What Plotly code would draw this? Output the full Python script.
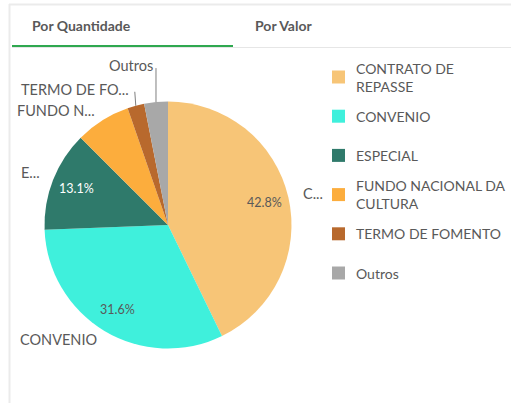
import math
import plotly.graph_objects as go

# ---------------- data ----------------
categories = ["CONTRATO DE REPASSE", "CONVENIO", "ESPECIAL",
              "FUNDO NACIONAL DA CULTURA", "TERMO DE FOMENTO", "Outros"]
shares = [42.8, 31.6, 13.1, 7.2, 2.2, 3.1]
slice_labels = ["C...", "CONVENIO", "E...", "FUNDO N...", "TERMO DE FO...", "Outros"]
legend_labels = ["CONTRATO DE<br>REPASSE", "CONVENIO", "ESPECIAL",
                 "FUNDO NACIONAL DA<br>CULTURA", "TERMO DE FOMENTO", "Outros"]
show_percent = [True, True, True, False, False, False]
tab_labels = ["Por Quantidade", "Por Valor"]

# ---------------- style ----------------
colors = ["#f7c577", "#3ff0dc", "#2f7a6b", "#fcad3d", "#b8692d", "#a8a8a8"]
pct_colors = ["#595959", "#595959", "#ffffff", "#595959", "#595959", "#595959"]
TEXT = "#595959"
FONT = "Lato, 'Open Sans', sans-serif"

W, H = 511, 403
CX, CY, R = 168.0, 225.0, 123.5

# label offsets from slice edge point (px) and leader lines (px)
label_off = [(13, -4, "left"), (-5, 9, "right"), (-11, -7, "right"),
             (-5, -10, "right"), (-5, -16, "right"), (-1, -37, "right")]
leader = [None, None, None, None, (-1, -14), (0, -34)]


def px(x):
    return x / W


def py(y):
    return 1 - y / H


fig = go.Figure()
fig.add_trace(go.Pie(
    labels=categories, values=shares, sort=False, direction="clockwise",
    rotation=0, marker=dict(colors=colors, line=dict(width=0)),
    textinfo="none", hoverinfo="label+percent", showlegend=False,
    domain=dict(x=[px(CX - R), px(CX + R)], y=[py(CY + R), py(CY - R)]),
))

annotations = []
shapes = []
total = sum(shares)
cum = 0.0
for i, v in enumerate(shares):
    mid = (cum + v / 2) / total * 2 * math.pi
    cum += v
    ex, ey = CX + R * math.sin(mid), CY - R * math.cos(mid)
    # percent inside
    if show_percent[i]:
        annotations.append(dict(
            x=px(CX + 0.8 * R * math.sin(mid)), y=py(CY - 0.8 * R * math.cos(mid)),
            xref="paper", yref="paper", showarrow=False,
            text=f"{v / total * 100:.1f}%",
            font=dict(family=FONT, size=12.5, color=pct_colors[i]),
            xanchor="center", yanchor="middle"))
    dx, dy, anc = label_off[i]
    annotations.append(dict(
        x=px(ex + dx), y=py(ey + dy), xref="paper", yref="paper", showarrow=False,
        text=slice_labels[i], font=dict(family=FONT, size=14.5, color=TEXT),
        xanchor=anc, yanchor="middle"))
    if leader[i] is not None:
        lx, ly = leader[i]
        shapes.append(dict(type="line", xref="paper", yref="paper",
                           x0=px(ex), y0=py(ey), x1=px(ex + lx), y1=py(ey + ly),
                           line=dict(color="#7f7f7f", width=1)))

# ---------------- legend (manual) ----------------
LEG_X, LEG_Y0, LEG_STEP, SQ = 332, 77, 39.2, 13
for i, t in enumerate(legend_labels):
    yc = LEG_Y0 + i * LEG_STEP
    shapes.append(dict(type="rect", xref="paper", yref="paper",
                       x0=px(LEG_X), x1=px(LEG_X + SQ),
                       y0=py(yc - SQ / 2), y1=py(yc + SQ / 2),
                       fillcolor=colors[i], line=dict(width=0)))
    annotations.append(dict(
        x=px(LEG_X + SQ + 9), y=py(yc), xref="paper", yref="paper",
        showarrow=False, text=t, align="left",
        font=dict(family=FONT, size=14, color=TEXT),
        xanchor="left", yanchor="middle"))

# ---------------- card frame & tabs ----------------
shapes += [
    dict(type="line", xref="paper", yref="paper", x0=px(9), x1=1, y0=py(4.5), y1=py(4.5),
         line=dict(color="#ebebeb", width=2)),
    dict(type="line", xref="paper", yref="paper", x0=px(9.5), x1=px(9.5), y0=py(4), y1=0,
         line=dict(color="#ebebeb", width=2)),
    dict(type="line", xref="paper", yref="paper", x0=px(12), x1=1, y0=py(47.5), y1=py(47.5),
         line=dict(color="#e6e6e6", width=1)),
    dict(type="line", xref="paper", yref="paper", x0=px(12), x1=px(233), y0=py(46), y1=py(46),
         line=dict(color="#2fa84f", width=2)),
]
for t, xl in zip(tab_labels, [30, 253]):
    annotations.append(dict(x=px(xl), y=py(26), xref="paper", yref="paper", showarrow=False,
                            text=f"<b>{t}</b>", font=dict(family=FONT, size=14, color=TEXT),
                            xanchor="left", yanchor="middle"))

fig.update_layout(
    width=W, height=H, margin=dict(l=0, r=0, t=0, b=0),
    paper_bgcolor="white", plot_bgcolor="white",
    showlegend=False, annotations=annotations, shapes=shapes,
)
fig.write_html(
    "out.html",
    config={"displayModeBar": False},
    post_script="document.body.style.margin='0';document.body.style.overflow='hidden';",
)
